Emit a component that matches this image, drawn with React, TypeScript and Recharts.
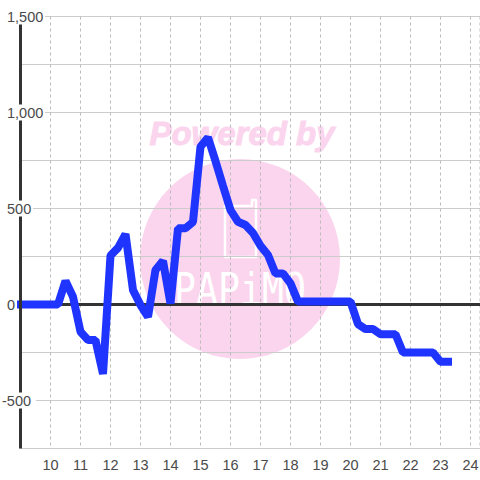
import React from "react";
import {
	LineChart,
	Line,
	XAxis,
	YAxis,
	CartesianGrid,
	ReferenceLine,
} from "recharts";

const hours = [
	9, 9.25, 9.5, 9.75, 10, 10.25, 10.5, 10.75, 11, 11.25, 11.5, 11.75, 12, 12.25,
	12.5, 12.75, 13, 13.25, 13.5, 13.75, 14, 14.25, 14.5, 14.75, 15, 15.25, 15.5,
	15.75, 16, 16.25, 16.5, 16.75, 17, 17.25, 17.5, 17.75, 18, 18.25, 18.5, 18.75,
	19, 19.25, 19.5, 19.75, 20, 20.25, 20.5, 20.75, 21, 21.25, 21.5, 21.75, 22,
	22.25, 22.5, 22.75, 23, 23.25,
];
const power = [
	0, 0, 0, 0, 0, 0, 122, 40, -142, -185, -185, -362, 255, 295, 367, 75, -3, -65,
	180, 227, 5, 397, 397, 430, 822, 870, 747, 618, 492, 431, 414, 372, 306, 258,
	162, 162, 110, 15, 15, 15, 15, 15, 15, 15, 15, -102, -128, -128, -155, -155,
	-155, -250, -250, -250, -250, -250, -298, -298,
];
const xTicks = [10, 11, 12, 13, 14, 15, 16, 17, 18, 19, 20, 21, 22, 23, 24];
const yTicks = [-750, -500, -250, 0, 250, 500, 750, 1000, 1250, 1500];
const yLabels = [-500, 0, 500, 1000, 1500];

const data = hours.map((hour, i) => ({ hour, power: power[i] }));

const YTick = ({ y, payload }: any) => {
	if (!yLabels.includes(payload.value)) return null;
	const label = payload.value.toLocaleString("en-US");
	const left = payload.value < 0 ? 2 : 7;
	const width = label.replace(",", "").length * 8 + (label.includes(",") ? 4 : 0);
	return (
		<g>
			<rect x={left - 2} y={y - 8} width={width + 4} height={16} fill="#fff" />
			<text x={left} y={y + 5} textAnchor="start" fontSize={14.5} fill="#4a4a4a">
				{label}
			</text>
		</g>
	);
};

const Watermark = () => (
	<svg
		width={480}
		height={480}
		style={{ position: "absolute", left: 0, top: 0 }}
		fontFamily="Liberation Sans"
	>
		<circle cx={240} cy={259} r={100} fill="#fbd5ee" />
		<text
			x={242}
			y={145}
			textAnchor="middle"
			fontSize={33}
			fontWeight="bold"
			fontStyle="italic"
			fill="#fbd5ee"
			stroke="#fbd5ee"
			strokeWidth={1}
		>
			Powered by
		</text>
		<text
			x={240}
			y={305}
			textAnchor="middle"
			fontSize={45}
			fontFamily="DejaVu Sans Mono"
			textLength={132}
			lengthAdjust="spacingAndGlyphs"
			fill="#fff"
		>
			PAPiMO
		</text>
		<path
			d="M225 257V206H252V200H256V257Z"
			fill="none"
			stroke="#fff"
			strokeWidth={2.5}
			strokeLinejoin="round"
		/>
	</svg>
);

export default function App() {
	return (
		<div style={{ position: "absolute", left: 0, top: 0, width: 480, height: 480 }}>
			<Watermark />
			<LineChart
				width={480}
				height={480}
				data={data}
				margin={{ top: 16.5, right: 0, bottom: 0, left: 0 }}
				style={{ position: "absolute", left: 0, top: 0, fontFamily: "Liberation Sans" }}
			>
				<CartesianGrid vertical={false} stroke="#ccc" strokeWidth={1} />
				<CartesianGrid horizontal={false} stroke="#bbb" strokeWidth={1} strokeDasharray="3 3" />
				<XAxis
					dataKey="hour"
					type="number"
					domain={[9, 24.317]}
					ticks={xTicks}
					interval={0}
					height={31.5}
					tickLine={false}
					tickMargin={5}
					axisLine={{ stroke: "#ccc", strokeWidth: 1 }}
					tick={{ fontSize: 14.5, fill: "#4a4a4a" }}
				/>
				<YAxis
					type="number"
					domain={[-750, 1500]}
					ticks={yTicks}
					interval={0}
					width={20.5}
					tickLine={false}
					axisLine={{ stroke: "#333", strokeWidth: 3 }}
					tick={<YTick />}
				/>
				<ReferenceLine y={0} stroke="#333" strokeWidth={3} />
				<Line
					dataKey="power"
					type="linear"
					stroke="#1f35ff"
					strokeWidth={8}
					strokeLinecap="square"
					strokeLinejoin="bevel"
					dot={false}
					isAnimationActive={false}
				/>
			</LineChart>
		</div>
	);
}
